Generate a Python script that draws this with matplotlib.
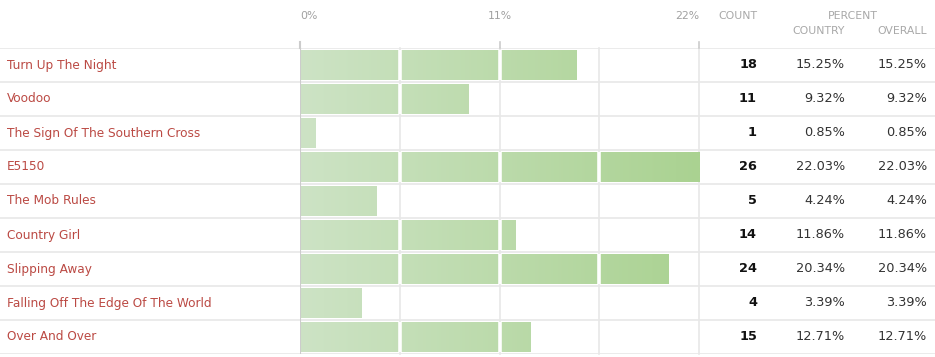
import matplotlib
matplotlib.use("Agg")
import matplotlib.pyplot as plt
import numpy as np
from matplotlib.patches import Rectangle
from matplotlib.colors import LinearSegmentedColormap

songs = ["Turn Up The Night", "Voodoo", "The Sign Of The Southern Cross", "E5150",
         "The Mob Rules", "Country Girl", "Slipping Away",
         "Falling Off The Edge Of The World", "Over And Over"]
counts = [18, 11, 1, 26, 5, 14, 24, 4, 15]
pct_country = [15.25, 9.32, 0.85, 22.03, 4.24, 11.86, 20.34, 3.39, 12.71]
pct_overall = [15.25, 9.32, 0.85, 22.03, 4.24, 11.86, 20.34, 3.39, 12.71]
tick_vals = [0, 11, 22]
tick_labels = ["0%", "11%", "22%"]
grid_vals = [5.5, 11, 16.5, 22]

W, H = 935, 357
fig = plt.figure(figsize=(W / 100, H / 100), dpi=100)
fig.patch.set_facecolor("white")

n = len(songs)
top_px, bot_px = 48, 354
ax_bottom = (H - bot_px) / H
ax_height = (bot_px - top_px) / H

# background/table axes (full width)
axt = fig.add_axes([0, ax_bottom, 1, ax_height])
axt.set_xlim(0, W)
axt.set_ylim(n - 0.5, -0.5)
axt.axis("off")

# bar axes
x0_px, x1_px = 300, 700
xmax = 22.05
axb = fig.add_axes([x0_px / W, ax_bottom, (x1_px - x0_px) / W, ax_height])
axb.set_xlim(0, xmax)
axb.set_ylim(n - 0.5, -0.5)
axb.axis("off")
axb.patch.set_alpha(0)

# row separators
for i in range(n + 1):
    axt.axhline(i - 0.5, color="#e8e8e8", lw=1.2, zorder=1)

# gridlines
for g in grid_vals:
    axb.axvline(g, color="#e8e8e8", lw=1.2, zorder=1, clip_on=False)

# gradient bars
cmap = LinearSegmentedColormap.from_list("g", ["#cde3c5", "#aad291"])
grad = np.linspace(0, 1, 256).reshape(1, -1)
bh = 0.91
for i, v in enumerate(pct_country):
    rect = Rectangle((0.06, i - bh / 2), v - 0.06, bh, facecolor="none", edgecolor="none")
    axb.add_patch(rect)
    im = axb.imshow(grad, cmap=cmap, aspect="auto",
                    extent=(0, 22, i + bh / 2, i - bh / 2), zorder=2,
                    interpolation="bilinear")
    im.set_clip_path(rect)
    for g in grid_vals:
        if g < v - 0.3:
            axb.vlines(g, i - bh / 2, i + bh / 2, color="white", lw=2.6, zorder=4)

# axis line and ticks
tr = axb.get_xaxis_transform()
axb.plot([0, 0], [1, 1 + 6 / (bot_px - top_px)], transform=tr, color="#cccccc",
         lw=1.5, clip_on=False, zorder=3)
axb.axvline(0, color="#cccccc", lw=1.5, zorder=3)
for t in tick_vals[1:]:
    axb.plot([t, t], [1, 1 + 6 / (bot_px - top_px)], transform=tr, color="#cccccc",
             lw=1.2, clip_on=False, zorder=3)

# tick labels
label_y = 1 + (top_px - 16) / (bot_px - top_px)
aligns = ["left", "center", "right"]
for t, lab, al in zip(tick_vals, tick_labels, aligns):
    axb.text(t, label_y, lab, transform=tr, ha=al, va="center",
             fontsize=7.8, color="#a0a0a0")

# headers
ttr = axt.get_xaxis_transform()
hdr_c = "#a8a8a8"
axt.text(757, label_y, "COUNT", transform=ttr, ha="right", va="center", fontsize=7.8, color=hdr_c)
axt.text(853, label_y, "PERCENT", transform=ttr, ha="center", va="center", fontsize=7.8, color=hdr_c)
y2 = 1 + (top_px - 31) / (bot_px - top_px)
axt.text(845, y2, "COUNTRY", transform=ttr, ha="right", va="center", fontsize=7.8, color=hdr_c)
axt.text(927, y2, "OVERALL", transform=ttr, ha="right", va="center", fontsize=7.8, color=hdr_c)

# rows
for i in range(n):
    axt.text(7, i, songs[i], ha="left", va="center", fontsize=8.7, color="#bb4a44")
    axt.text(757, i, str(counts[i]), ha="right", va="center", fontsize=9.3,
             color="#111111", fontweight="bold")
    axt.text(845, i, f"{pct_country[i]:.2f}%", ha="right", va="center", fontsize=9.3, color="#333333")
    axt.text(927, i, f"{pct_overall[i]:.2f}%", ha="right", va="center", fontsize=9.3, color="#333333")

fig.savefig("out.png", dpi=100, facecolor="white")
